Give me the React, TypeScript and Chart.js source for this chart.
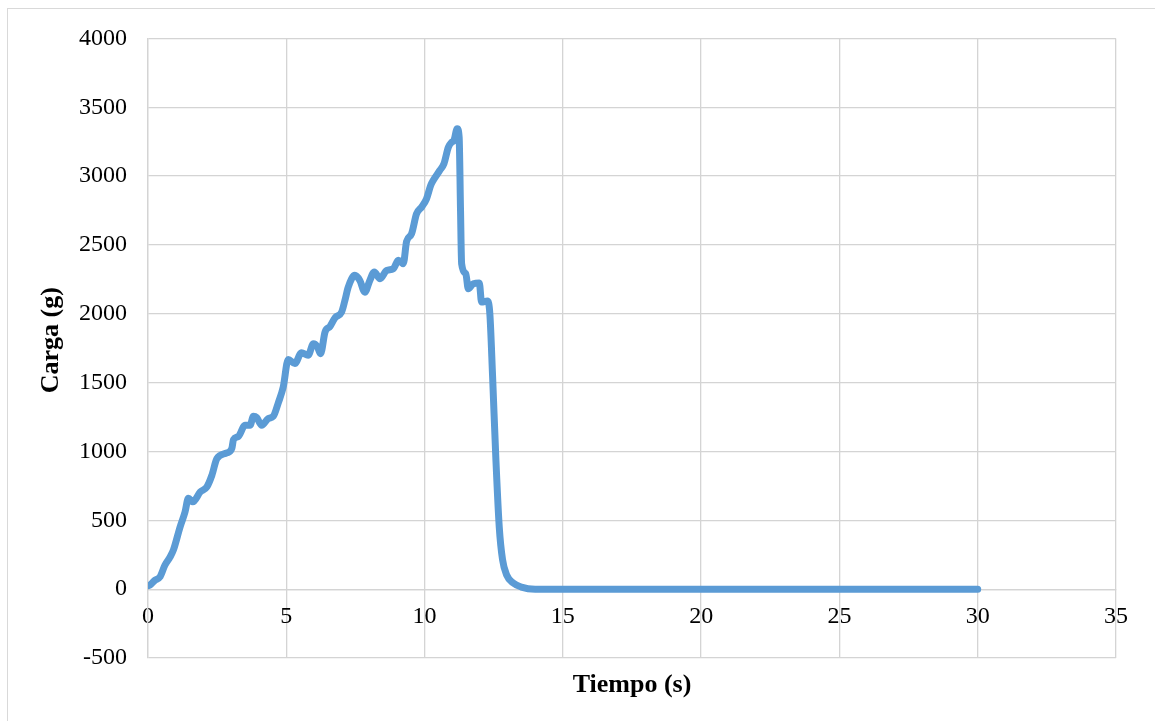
import React, { useEffect, useRef } from "react";
import { Chart, registerables } from "chart.js";

Chart.register(...registerables);

// Time (s)
const timeS = [
  0.0, 0.07, 0.25, 0.44, 0.61, 0.8, 0.92, 1.16, 1.34, 1.46, 1.62, 1.89, 2.13, 2.31,
  2.49, 2.85, 3.03, 3.09, 3.27, 3.51, 3.69, 3.81, 3.93, 4.11, 4.35, 4.53, 4.72,
  4.89, 5.07, 5.31, 5.55, 5.79, 5.98, 6.12, 6.24, 6.4, 6.58, 6.76, 7.0, 7.12,
  7.24, 7.48, 7.66, 7.84, 8.02, 8.18, 8.39, 8.63, 8.87, 9.05, 9.23, 9.35, 9.53,
  9.71, 9.89, 10.07, 10.22, 10.31, 10.55, 10.7, 10.86, 10.98, 11.06, 11.18,
  11.25, 11.3, 11.34, 11.49, 11.58, 11.76, 11.98, 12.06, 12.27, 12.36, 12.46,
  12.58, 12.7, 12.82, 12.97, 13.2, 13.5, 14.0, 15.0, 16.0, 18.0, 20.0, 22.0,
  24.0, 26.0, 28.0, 30.0,
];

// Load (g)
const loadG = [
  25, 30, 65, 91, 174, 234, 285, 452, 561, 660, 634, 706, 743, 827,
  948, 989, 1021, 1086, 1110, 1190, 1190, 1255, 1246, 1190, 1239, 1255, 1359,
  1468, 1668, 1638, 1717, 1698, 1783, 1763, 1710, 1867, 1908, 1971, 2012, 2097,
  2194, 2279, 2242, 2157, 2242, 2303, 2255, 2315, 2327, 2388, 2364, 2525, 2581,
  2726, 2774, 2835, 2932, 2968, 3041, 3089, 3210, 3246, 3258, 3343,
  3283, 2750, 2364, 2291, 2182, 2218, 2223, 2085, 2092, 2001, 1541,
  936, 452, 213, 102, 45, 15, 0, 0, 0, 0, 0, 0,
  0, 0, 0, 0,
];

const xTitle = "Tiempo (s)";
const yTitle = "Carga (g)";

const FONT = "'Liberation Serif', 'Times New Roman', serif";

const titlesPlugin = {
  id: "axisTitles",
  afterDraw(chart: any) {
    const { ctx, chartArea } = chart;
    ctx.save();
    ctx.font = `bold 26px ${FONT}`;
    ctx.fillStyle = "#000";
    ctx.textAlign = "center";
    ctx.textBaseline = "middle";
    ctx.fillText(xTitle, (chartArea.left + chartArea.right) / 2, chartArea.bottom + 27);
    ctx.translate(43, (chartArea.top + chartArea.bottom) / 2 - 8);
    ctx.rotate(-Math.PI / 2);
    ctx.fillText(yTitle, 0, 0);
    ctx.restore();
  },
};

export default function App() {
  const canvasRef = useRef<HTMLCanvasElement | null>(null);

  useEffect(() => {
    const canvas = canvasRef.current;
    if (!canvas) return;
    const points = timeS.map((t, i) => ({ x: t, y: loadG[i] }));
    const chart = new Chart(canvas, {
      type: "scatter",
      data: {
        datasets: [
          {
            label: "Carga",
            data: points,
            showLine: true,
            borderColor: "#5b9bd5",
            backgroundColor: "#5b9bd5",
            borderWidth: 7,
            pointRadius: 0,
            pointHoverRadius: 0,
            cubicInterpolationMode: "monotone",
            borderCapStyle: "round",
            borderJoinStyle: "round",
          } as any,
        ],
      },
      options: {
        responsive: false,
        animation: false,
        devicePixelRatio: 1,
        layout: { padding: { top: 23, right: 39, bottom: 63, left: 0 } },
        plugins: {
          legend: { display: false },
          tooltip: { enabled: false },
          title: { display: false },
        },
        scales: {
          x: {
            type: "linear",
            position: { y: 0 } as any,
            min: 0,
            max: 35,
            ticks: {
              stepSize: 5,
              padding: 13,
              color: "#000",
              font: { family: FONT, size: 24 },
              maxRotation: 0,
              callback: (v: any) => String(v),
            },
            grid: { color: "#d4d4d4", lineWidth: 1.3, drawTicks: false },
            border: { color: "#d4d4d4", width: 1.3 },
          },
          y: {
            type: "linear",
            position: "left",
            min: -500,
            max: 4000,
            ticks: {
              stepSize: 500,
              padding: 21,
              color: "#000",
              font: { family: FONT, size: 24 },
              callback: (v: any) => String(v),
            },
            grid: { color: "#d4d4d4", lineWidth: 1.3, drawTicks: false },
            border: { color: "#d4d4d4", width: 1.3 },
            afterFit(scale: any) {
              scale.width = 140;
            },
          },
        },
      },
      plugins: [titlesPlugin],
    });
    return () => chart.destroy();
  }, []);

  return (
    <div
      style={{
        position: "absolute",
        left: 7,
        top: 8,
        width: 1148,
        height: 713,
        boxSizing: "border-box",
        borderLeft: "1px solid #d9d9d9",
        borderTop: "1px solid #d9d9d9",
        background: "#fff",
      }}
    >
      <canvas
        ref={canvasRef}
        width={1147}
        height={718}
        style={{ display: "block", position: "absolute", left: 0, top: -6 }}
      />
    </div>
  );
}
